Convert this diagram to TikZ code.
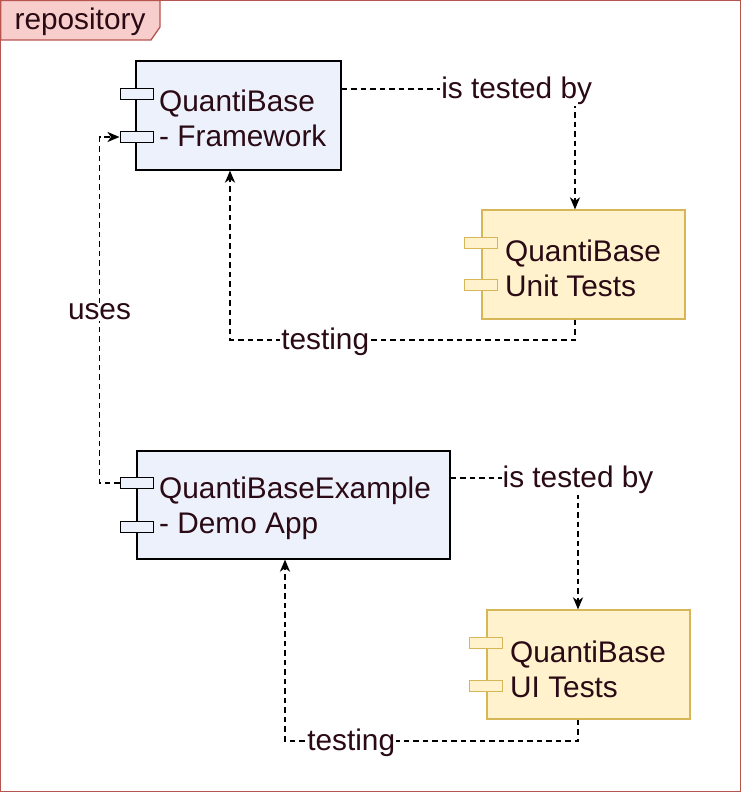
\documentclass[tikz,border=0pt]{standalone}
\usepackage{fontspec}
\setmainfont{Liberation Sans}
\usetikzlibrary{arrows.meta,calc}
\definecolor{txt}{HTML}{2A0A14}
\definecolor{framered}{HTML}{B85450}
\definecolor{tabred}{HTML}{F8CECC}
\definecolor{bluefill}{HTML}{EDF1FC}
\definecolor{yelfill}{HTML}{FFF2CC}
\definecolor{yelstroke}{HTML}{D6B656}
\tikzset{
  bluebox/.style={draw=black, fill=bluefill, line width=1.2pt, inner sep=0pt},
  yelbox/.style={draw=yelstroke, fill=yelfill, line width=1.2pt, inner sep=0pt},
  bport/.style={draw=black, fill=bluefill, line width=1pt, minimum width=33pt, minimum height=11pt, inner sep=0pt},
  yport/.style={draw=yelstroke, fill=yelfill, line width=1pt, minimum width=33pt, minimum height=11pt, inner sep=0pt},
  btxt/.style={text=txt, font=\fontsize{29.8}{35}\selectfont, align=left, inner sep=2pt, anchor=west},
  lbl/.style={text=txt, font=\fontsize{29.8}{35}\selectfont, fill=white, inner sep=1pt, yshift=-2pt},
  conn/.style={draw=black, line width=1.9pt, dash pattern=on 5.5pt off 4pt, -{Stealth[length=12pt,width=10pt,inset=3.5pt]}},
}
\begin{document}
\begin{tikzpicture}[x=1pt,y=-1pt]
\useasboundingbox (0,0) rectangle (741,792);
\draw[framered, line width=1.3pt] (0.6,0.6) rectangle (740.4,791.4);
\filldraw[draw=framered, fill=tabred, line width=1.3pt] (0.6,0.6) -- (160,0.6) -- (160,27) -- (151,40) -- (0.6,40) -- cycle;
\node[text=txt, font=\fontsize{29.8}{35}\selectfont] (title) at (80,21.5) {repository};

% Framework
\node[bluebox, minimum width=205pt, minimum height=109pt] (fw) at (238.5,115.5) {};
\node[bport] (fwp1) at (136.5,93.5) {};
\node[bport] (fwp2) at (136.5,137) {};
\node[btxt] (fwt) at (157,118.5) {QuantiBase\\- Framework};

% Unit tests
\node[yelbox, minimum width=203pt, minimum height=109pt] (ut) at (583.5,264.5) {};
\node[yport] (utp1) at (481,242.5) {};
\node[yport] (utp2) at (481,285) {};
\node[btxt] (utt) at (503,268.5) {QuantiBase\\Unit Tests};

% Example
\node[bluebox, minimum width=313pt, minimum height=108pt] (ex) at (293.5,505) {};
\node[bport] (exp1) at (136.5,483) {};
\node[bport] (exp2) at (136.5,527) {};
\node[btxt] (ext) at (157,508.5) {QuantiBaseExample\\- Demo App};

% UI tests
\node[yelbox, minimum width=203pt, minimum height=109pt] (ui) at (588.5,664.5) {};
\node[yport] (uip1) at (486,643) {};
\node[yport] (uip2) at (486,685.5) {};
\node[btxt] (uit) at (508,669) {QuantiBase\\UI Tests};

% connectors
\draw[conn] ($(fw.east)+(0,-26.5)$) -| node[lbl,pos=0.375]{is tested by} ($(ut.north)+(-8.5,0)$);
\draw[conn] ($(ut.south)+(-8.5,0)$) -- ++(0,20) -| node[lbl,pos=0.362]{testing} ($(fw.south)+(-8.5,0)$);
\draw[conn] (exp1.west) -- ++(-20,0) |- node[lbl,pos=0.25]{uses} (fwp2.west);
\draw[conn] ($(ex.east)+(0,-27)$) -| node[lbl,pos=0.5]{is tested by} ($(ui.north)+(-10.5,0)$);
\draw[conn] ($(ui.south)+(-10.5,0)$) -- ++(0,21) -| node[lbl,pos=0.387]{testing} ($(ex.south)+(-8.5,0)$);
\end{tikzpicture}
\end{document}
